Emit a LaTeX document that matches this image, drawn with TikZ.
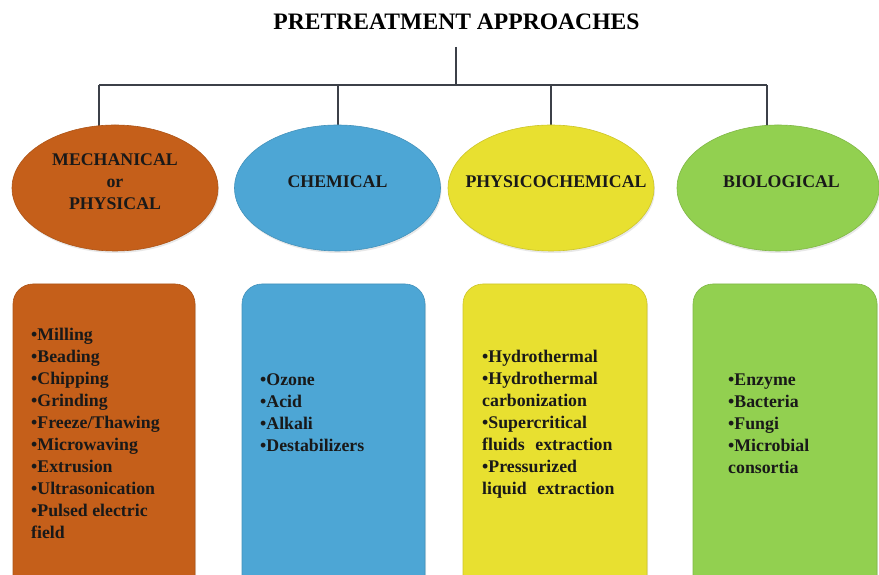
\documentclass[tikz,border=0pt]{standalone}
\usepackage{fontspec}
\setmainfont{Liberation Serif}
\usetikzlibrary{shadows,shapes.geometric}
\definecolor{mechcol}{HTML}{C55F1A}
\definecolor{chemcol}{HTML}{4DA6D5}
\definecolor{physcol}{HTML}{E8E030}
\definecolor{biocol}{HTML}{92D050}
\definecolor{linecol}{HTML}{3C4048}
\tikzset{
  x=1pt, y=1pt,
  treeline/.style={draw=linecol, line width=2pt},
  blob/.style={ellipse, minimum width=206pt, minimum height=126pt, inner sep=0pt,
    fill=#1, draw=#1!88!black, line width=0.6pt,
    drop shadow={opacity=0.18, shadow xshift=1pt, shadow yshift=-2pt}},
  panel/.style={rounded corners=20pt, fill=#1, draw=#1!88!black, line width=0.6pt,
    drop shadow={opacity=0.18, shadow xshift=1pt, shadow yshift=-2pt}},
  headtext/.style={font=\fontsize{17.8}{22}\selectfont\bfseries, align=center, inner sep=0pt, text=black!90},
  listtext/.style={font=\fontsize{17.8}{22.1}\selectfont\bfseries, align=left, inner sep=0pt,
    anchor=north west, text=black!90},
}
\begin{document}
\begin{tikzpicture}
\useasboundingbox (0,0) rectangle (879,575);
\begin{scope}
\clip (0,0) rectangle (879,575);

% title and tree lines
\node[font=\fontsize{23.6}{28}\selectfont\bfseries, inner sep=0pt] (title) at (456.5,553) {PRETREATMENT APPROACHES};
\coordinate (top) at (456,528);
\coordinate (hub) at (456,489.5);
\coordinate (b1) at (99,489.5);
\coordinate (b2) at (338,489.5);
\coordinate (b3) at (551,489.5);
\coordinate (b4) at (767,489.5);
\coordinate (d1) at (99,449);
\coordinate (d2) at (338,449);
\coordinate (d3) at (551,449);
\coordinate (d4) at (767,449);
\draw[treeline] (top) -- (hub);
\draw[treeline] (b1) -- (b4);
\foreach \i in {1,2,3,4} \draw[treeline] (b\i) -- (d\i);

% category ellipses
\node[blob=mechcol] (e1) at (115,387) {};
\node[blob=chemcol] (e2) at (337.5,387) {};
\node[blob=physcol] (e3) at (551,387) {};
\node[blob=biocol, minimum width=202pt] (e4) at (778,387) {};

\node[headtext] (t1) at (115,393.5) {MECHANICAL\\or\\PHYSICAL};
\node[headtext] (t2) at (337.5,393.5) {CHEMICAL};
\node[headtext] (t3) at (556,393.5) {PHYSICOCHEMICAL};
\node[headtext] (t4) at (781.5,393.5) {BIOLOGICAL};

% method panels
\path[panel=mechcol] (13,-40) rectangle (195,291);
\path[panel=chemcol] (242,-40) rectangle (425,291);
\path[panel=physcol] (463,-40) rectangle (647,291);
\path[panel=biocol] (693,-40) rectangle (877,291);

\node[listtext] (l1) at (31,247.5) {\textbullet Milling\\\textbullet Beading\\\textbullet Chipping\\\textbullet Grinding\\\textbullet Freeze/Thawing\\\textbullet Microwaving\\\textbullet Extrusion\\\textbullet Ultrasonication\\\textbullet Pulsed electric\\field};
\node[listtext] (l2) at (260,201.5) {\textbullet Ozone\\\textbullet Acid\\\textbullet Alkali\\\textbullet Destabilizers};
\node[listtext] (l3) at (482,225.5) {\textbullet Hydrothermal\\\textbullet Hydrothermal\\carbonization\\\textbullet Supercritical\\fluids\hspace{0.6em}extraction\\\textbullet Pressurized\\liquid\hspace{0.6em}extraction};
\node[listtext] (l4) at (728,201.5) {\textbullet Enzyme\\\textbullet Bacteria\\\textbullet Fungi\\\textbullet Microbial\\consortia};
\end{scope}
\end{tikzpicture}
\end{document}
